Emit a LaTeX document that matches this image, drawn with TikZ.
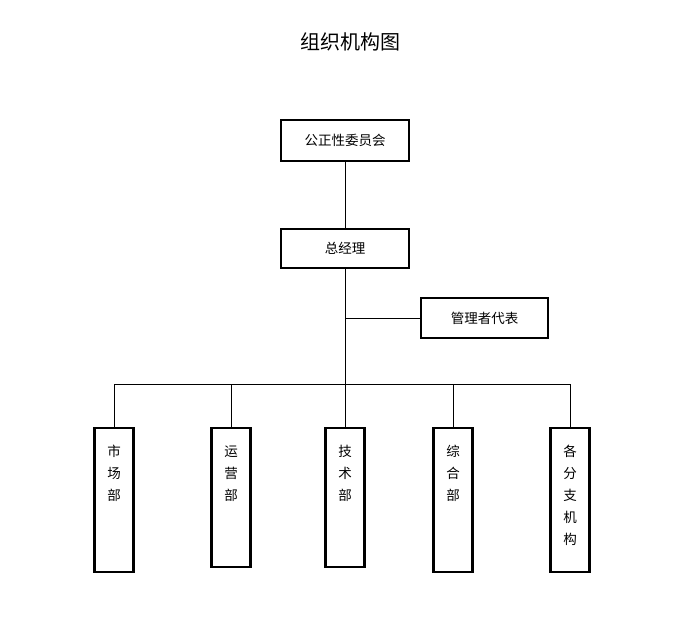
\documentclass[tikz,border=0pt]{standalone}
\usepackage{fontspec}
\newfontfamily\cjk{Noto Sans CJK SC}
\begin{document}
\begin{tikzpicture}[x=1pt,y=-1pt,
  box/.style={draw,line width=2.2pt,inner sep=0pt},
  ln/.style={line width=0.8pt},
  lab/.style={font=\cjk\fontsize{13.5}{13.5}\selectfont},
  vlab/.style={font=\cjk\fontsize{13.5}{22}\selectfont,align=center,anchor=north}]
\useasboundingbox (0,0) rectangle (700,633);
\node[font=\cjk\fontsize{20}{20}\selectfont] (title) at (350,42) {组织机构图};
\draw[box] (281,120) rectangle (409,161); \node[lab] (a) at (345,140.5) {公正性委员会};
\draw[box] (281,229) rectangle (409,268); \node[lab] (b) at (345,248.5) {总经理};
\draw[box] (421,298) rectangle (548,338); \node[lab] (c) at (484.5,318) {管理者代表};
\coordinate (at) at (345,161); \coordinate (bt) at (345,229); \coordinate (bb) at (345,268);
\coordinate (j) at (345,318); \coordinate (cl) at (421,318); \coordinate (bus) at (345,384);
\draw[ln] (at)--(bt); \draw[ln] (bb)--(bus); \draw[ln] (j)--(cl);
\draw[ln] (114,384)--(570,384);
\foreach \x/\l/\yb/\t in {114/1/572/{市\\场\\部},231/2/567/{运\\营\\部},345/3/567/{技\\术\\部},453/4/572/{综\\合\\部},570/5/572/{各\\分\\支\\机\\构}}{
  \draw[box] (\x-19.5,428) rectangle (\x+19.5,\yb);
  \draw[ln] (\x,384)--(\x,428);
  \node[vlab] (d\l) at (\x,442) {\t};
}
\end{tikzpicture}
\end{document}
